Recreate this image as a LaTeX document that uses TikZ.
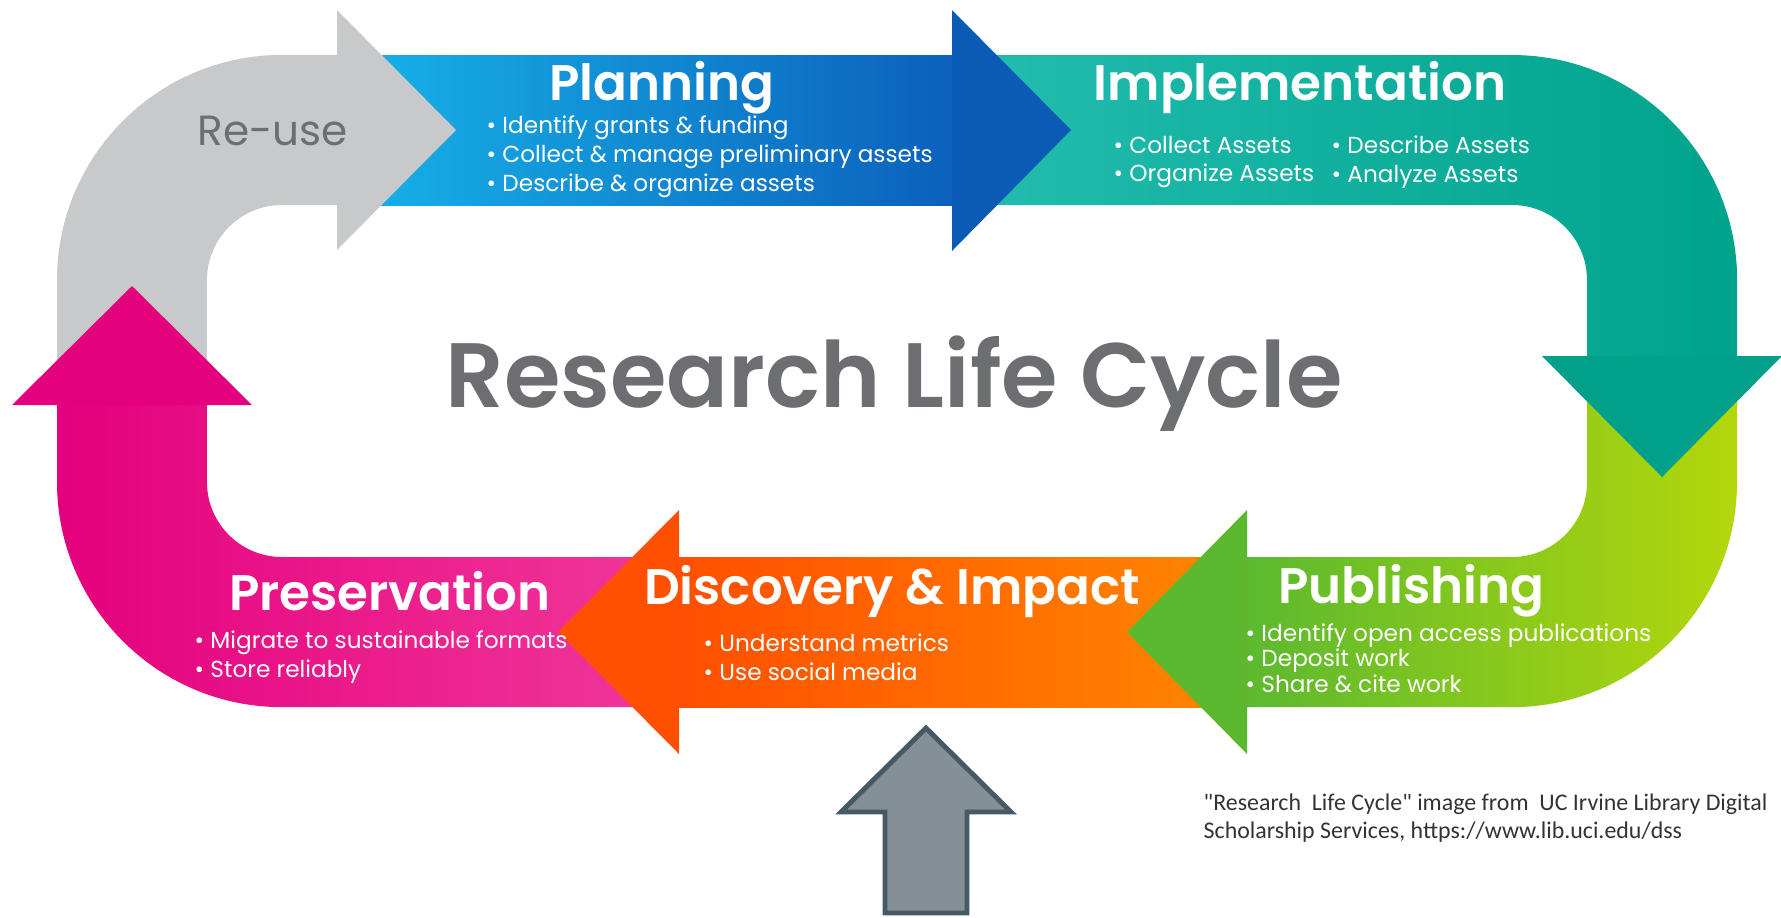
\documentclass[tikz,border=0pt]{standalone}
\usepackage{fontspec}
\setmainfont{Poppins}[BoldFont={* SemiBold}]
\newfontfamily\creditfont{Carlito}
\usepackage{tikz}
\usetikzlibrary{calc}

\definecolor{reusegrey}{HTML}{C8C9CB}
\definecolor{planlight}{HTML}{17B4EA}
\definecolor{plandark}{HTML}{0B60BB}
\definecolor{planhead}{HTML}{0B5BB5}
\definecolor{impllight}{HTML}{22BDB0}
\definecolor{impldark}{HTML}{00A38C}
\definecolor{implhead}{HTML}{00A08A}
\definecolor{publime}{HTML}{B3D70B}
\definecolor{pubgreen}{HTML}{5CB92F}
\definecolor{discred}{HTML}{FF4F00}
\definecolor{discorange}{HTML}{FF8800}
\definecolor{presdeep}{HTML}{E4007C}
\definecolor{preslight}{HTML}{F1389B}
\definecolor{titlegrey}{HTML}{6D6E71}
\definecolor{upfill}{HTML}{848F96}
\definecolor{upline}{HTML}{465A66}

\tikzset{
  stagetitle/.style={font=\fontsize{14.2}{16}\selectfont\bfseries, text=white, inner sep=0pt},
  stageitems/.style={font=\fontsize{6.6}{8.2}\selectfont, text=white, align=left, anchor=west, inner sep=0pt}
}

\begin{document}
\begin{tikzpicture}[x=0.01cm, y=-0.01cm]
		%%%%% START %%%%%
		\useasboundingbox (0, 0) rectangle (1781, 917);
		\fill[white] (0, 0) rectangle (1781, 917);
		
		% bands, each from the base of the last head to just under its own head
		\fill[reusegrey] (57, 405) -- (57, 280) arc (180:90:2.25cm) -- (339, 55) -- (339, 205) -- (282, 205) arc (90:180:0.75cm) -- (207, 405) -- cycle;
		\shade[left color=planlight, right color=plandark] (337, 55) rectangle (954, 205);
		\shade[left color=impllight, right color=impldark] (952, 55) -- (1512, 55) arc (90:0:2.25cm) -- (1737, 358) -- (1587, 358) -- (1587, 280) arc (0:90:0.75cm) -- (952, 205) -- cycle;
		\shade[left color=pubgreen, right color=publime] (1587, 356) -- (1737, 356) -- (1737, 482) arc (0:-90:2.25cm) -- (1245, 707) -- (1245, 557) -- (1512, 557) arc (-90:0:0.75cm) -- cycle;
		\shade[left color=discred, right color=discorange] (677, 557) rectangle (1247, 707);
		\shade[left color=presdeep, right color=preslight] (679, 557) -- (282, 557) arc (-90:-180:0.75cm) -- (207, 403) -- (57, 403) -- (57, 482) arc (180:270:2.25cm) -- (679, 707) -- cycle;
		
		% heads
		\fill[reusegrey] (337, 10) -- (456, 130) -- (337, 250) -- cycle;
		\fill[planhead] (952, 10) -- (1071, 130) -- (952, 251) -- cycle;
		\fill[implhead] (1542, 356) -- (1662, 477) -- (1782, 356) -- cycle;
		\fill[pubgreen] (1247, 510) -- (1127, 632) -- (1247, 754) -- cycle;
		\fill[discred] (679, 510) -- (558, 632) -- (679, 754) -- cycle;
		\fill[presdeep] (12, 405) -- (132, 286) -- (252, 405) -- cycle;
		
		% stage texts
		\node[font=\fontsize{12}{14}\selectfont, text=titlegrey, inner sep=0pt] (reuse) at (273, 131) {Re-use};
		
		\node[stagetitle] (planning) at (662, 88) {Planning};
		\node[stageitems] (planitems) at (486, 157) {\textbullet\ Identify grants \& funding\\\textbullet\ Collect \& manage preliminary assets\\\textbullet\ Describe \& organize assets};
		
		\node[stagetitle] (impl) at (1300, 88) {Implementation};
		\node[stageitems] (implleft) at (1113, 162) {\textbullet\ Collect Assets\\\textbullet\ Organize Assets};
		\node[stageitems] (implright) at (1331, 162) {\textbullet\ Describe Assets\\\textbullet\ Analyze Assets};
		
		\node[stagetitle] (pres) at (390, 591) {Preservation};
		\node[stageitems] (presitems) at (194, 657) {\textbullet\ Migrate to sustainable formats\\\textbullet\ Store reliably};
		
		\node[stagetitle] (disc) at (892, 591) {Discovery \& Impact};
		\node[stageitems] (discitems) at (703, 657) {\textbullet\ Understand metrics\\\textbullet\ Use social media};
		
		\node[stagetitle] (pub) at (1411, 591) {Publishing};
		\node[stageitems, font=\fontsize{6.6}{7.3}\selectfont] (pubitems) at (1245, 658) {\textbullet\ Identify open access publications\\\textbullet\ Deposit work\\\textbullet\ Share \& cite work};
		
		\node[font=\fontsize{26}{30}\selectfont\bfseries, text=titlegrey, inner sep=0pt] (cycle) at (894, 384) {Research Life Cycle};
		
		% pointer and credit
		\draw[line width=1.4pt, color=upline, fill=upfill, line join=miter] (885, 913) -- (885, 812) -- (841, 812) -- (926, 728) -- (1011, 812) -- (967, 812) -- (967, 913) -- cycle;
		
		\node[font=\creditfont\fontsize{6.8}{7.9}\selectfont, text=black!80, align=left, anchor=west, inner sep=0pt] (credit) at (1203, 818) {"Research\ \ Life Cycle" image from\ \ UC Irvine Library Digital\\Scholarship Services, https://www.lib.uci.edu/dss};
		
		%%%%% END %%%%%
	\end{tikzpicture}
\end{document}
